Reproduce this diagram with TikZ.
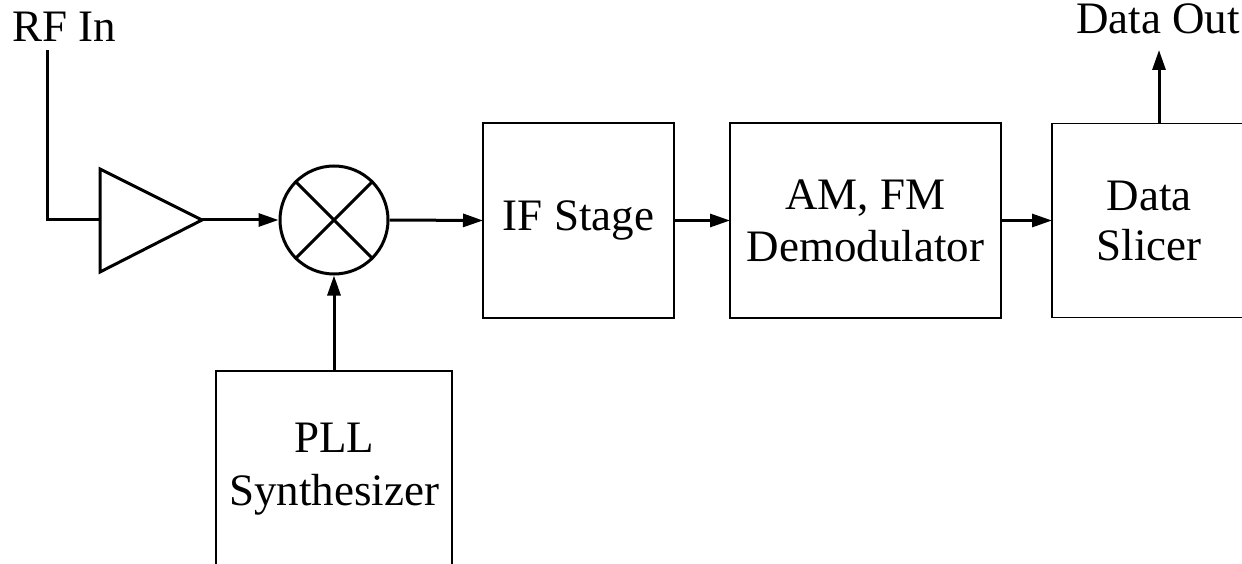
\documentclass[tikz,border=0pt]{standalone}
\usepackage{fontspec}
\setmainfont{Liberation Serif}
\usetikzlibrary{arrows.meta}

\tikzset{
  block/.style={draw=black, line width=1.2pt, inner sep=0pt, outer sep=0pt,
    align=center, font=\fontsize{45}{52}\selectfont},
  label/.style={inner sep=0pt, font=\fontsize{45}{52}\selectfont},
  wire/.style={line width=3pt},
  sig/.style={wire, -{Triangle[length=20pt,width=13pt]}},
}

\begin{document}
\begin{tikzpicture}[x=1pt,y=-1pt]
  \useasboundingbox (0,0) rectangle (1242,564);
  \clip (0,0) rectangle (1242,564);

  % terminal labels
  \node[label, anchor=base west] (rfin) at (12,42) {RF In};
  \node[label, anchor=base] (dout) at (1158,34) {Data Out};
  \coordinate (rfstart) at (47,50);
  \coordinate (doutend) at (1159,50);

  % low-noise amplifier
  \coordinate (ampin) at (100,220);
  \coordinate (ampout) at (202,220);
  \draw[wire, line join=miter] (100,169) -- (ampout) -- (100,272) -- cycle;

  % mixer
  \node[circle, draw, line width=3pt, minimum size=108pt, inner sep=0pt] (mix) at (334,220) {};
  \draw[wire] (mix.north west) -- (mix.south east);
  \draw[wire] (mix.north east) -- (mix.south west);

  % processing blocks
  \node[block, minimum width=191pt, minimum height=195pt] (ifs) at (578.5,220.5) {IF Stage};
  \node[block, minimum width=271pt, minimum height=195pt] (demod) at (865.5,220.5) {AM, FM\\Demodulator};
  \node[block, minimum width=194pt, minimum height=194pt] (slicer) at (1149,220.5) {Data\\[-2pt]Slicer};
  \node[block, minimum width=236pt, minimum height=196pt] (pll) at (334,469) {PLL\\[1pt]Synthesizer};

  % signal path
  \draw[wire] (rfstart) |- (ampin);
  \draw[sig] (ampout) -- (mix.west);
  \draw[sig] (mix.east) -- (ifs.west);
  \draw[sig] (ifs.east) -- (demod.west);
  \draw[sig] (demod.east) -- (slicer.west);
  \draw[sig] (slicer.north -| doutend) -- (doutend);
  \draw[sig] (pll.north) -- (mix.south);
\end{tikzpicture}
\end{document}
